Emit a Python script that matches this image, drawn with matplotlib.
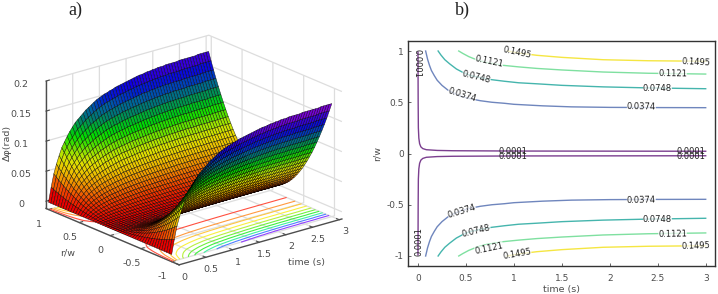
import numpy as np
import matplotlib
matplotlib.use("Agg")
import matplotlib.pyplot as plt
from matplotlib.colors import LinearSegmentedColormap, Normalize

# --- panel a: surface -------------------------------------------------------
# The mesh is built from two read series: height of the r/w = +-1 rim against
# time, and the relative height across r/w (their product gives the mesh).
time_grid = [0.00, 0.05, 0.10, 0.15, 0.20, 0.25, 0.30, 0.35, 0.40, 0.45,
             0.50, 0.55, 0.60, 0.65, 0.70, 0.75, 0.80, 0.85, 0.90, 0.95,
             1.00, 1.05, 1.10, 1.15, 1.20, 1.25, 1.30, 1.35, 1.40, 1.45,
             1.50, 1.55, 1.60, 1.65, 1.70, 1.75, 1.80, 1.85, 1.90, 1.95,
             2.00, 2.05, 2.10, 2.15, 2.20, 2.25, 2.30, 2.35, 2.40, 2.45,
             2.50, 2.55, 2.60, 2.65, 2.70, 2.75, 2.80, 2.85, 2.90, 2.95, 3.00]
rim_height = [0.000, 0.024, 0.045, 0.060, 0.073, 0.085, 0.093, 0.101, 0.108, 0.114,
              0.120, 0.124, 0.128, 0.132, 0.136, 0.139, 0.142, 0.145, 0.148, 0.150,
              0.152, 0.154, 0.155, 0.157, 0.158, 0.160, 0.161, 0.162, 0.163, 0.164,
              0.165, 0.166, 0.167, 0.168, 0.169, 0.169, 0.170, 0.171, 0.171, 0.172,
              0.172, 0.173, 0.173, 0.173, 0.174, 0.174, 0.174, 0.174, 0.174, 0.175,
              0.175, 0.175, 0.175, 0.175, 0.175, 0.175, 0.176, 0.176, 0.176, 0.176, 0.176]
r_grid = [-1.00, -0.96, -0.92, -0.88, -0.84, -0.80, -0.76, -0.72, -0.68, -0.64, -0.60,
          -0.56, -0.52, -0.48, -0.44, -0.40, -0.36, -0.32, -0.28, -0.24, -0.20,
          -0.16, -0.12, -0.08, -0.04, 0.00, 0.04, 0.08, 0.12, 0.16, 0.20,
          0.24, 0.28, 0.32, 0.36, 0.40, 0.44, 0.48, 0.52, 0.56, 0.60,
          0.64, 0.68, 0.72, 0.76, 0.80, 0.84, 0.88, 0.92, 0.96, 1.00]
r_profile = [1.000, 0.922, 0.846, 0.774, 0.706, 0.640, 0.578, 0.518, 0.462, 0.410, 0.360,
             0.314, 0.270, 0.230, 0.194, 0.160, 0.130, 0.102, 0.078, 0.058, 0.040,
             0.026, 0.014, 0.006, 0.002, 0.000, 0.002, 0.006, 0.014, 0.026, 0.040,
             0.058, 0.078, 0.102, 0.130, 0.160, 0.194, 0.230, 0.270, 0.314, 0.360,
             0.410, 0.462, 0.518, 0.578, 0.640, 0.706, 0.774, 0.846, 0.922, 1.000]
band_colors = ['#e80000', '#f03000', '#f06800', '#f09c00', '#ecc400', '#e0e000',
               '#a8e400', '#50e000', '#00dc00', '#00b030', '#007a70', '#0060a0',
               '#0020d0', '#1000e0', '#4000d8', '#7a00d8']
floor_levels = [0.0125, 0.029, 0.0455, 0.062, 0.0785, 0.095, 0.1115, 0.128, 0.1445, 0.161]
floor_colors = ['#ff5040', '#ff9a40', '#ffc840', '#f8f040', '#b8f040',
                '#70f040', '#40f040', '#40f0a0', '#5080ff', '#9040ff']

# --- panel b: contour lines -------------------------------------------------
t_c0001 = [0.000, 0.002, 0.004, 0.009, 0.017, 0.030, 0.050, 0.087, 0.200, 0.365, 1.000, 3.000]
r_c0001 = [0.990, 0.500, 0.250, 0.150, 0.096, 0.065, 0.048, 0.037, 0.030, 0.027, 0.024, 0.022]
t_c0374 = [0.08, 0.10, 0.12, 0.14, 0.17, 0.20, 0.25, 0.31, 0.38, 0.46, 0.54, 0.65,
           0.77, 0.90, 1.00, 1.30, 1.60, 2.00, 2.50, 3.00]
r_c0374 = [1.00, 0.92, 0.86, 0.81, 0.76, 0.715, 0.665, 0.62, 0.585, 0.555, 0.535, 0.515,
           0.50, 0.49, 0.48, 0.465, 0.455, 0.45, 0.448, 0.447]
t_c0748 = [0.21, 0.24, 0.28, 0.33, 0.40, 0.47, 0.55, 0.65, 0.77, 0.90, 1.05, 1.24, 1.50, 1.93, 2.40, 3.00]
r_c0748 = [1.00, 0.96, 0.915, 0.875, 0.825, 0.79, 0.76, 0.74, 0.72, 0.705, 0.69, 0.68, 0.665, 0.65, 0.64, 0.632]
t_c1121 = [0.425, 0.47, 0.53, 0.61, 0.70, 0.80, 0.89, 1.05, 1.24, 1.50, 1.93, 2.40, 3.00]
r_c1121 = [1.000, 0.975, 0.945, 0.915, 0.89, 0.875, 0.86, 0.845, 0.83, 0.815, 0.795, 0.783, 0.775]
t_c1495 = [0.93, 1.05, 1.24, 1.50, 1.93, 2.40, 3.00]
r_c1495 = [1.000, 0.98, 0.958, 0.938, 0.915, 0.905, 0.900]
line_colors = ['#7b3f8f', '#6f86bd', '#45b5ad', '#7fe0a0', '#f5e642']
lbl_t = [1.034, 2.90, 0.741, 2.655, 0.609, 2.496, 0.459, 2.33,
         1.034, 2.90, 0.741, 2.655, 0.609, 2.496, 0.459, 2.33]
lbl_r = [0.982, 0.894, 0.894, 0.774, 0.748, 0.634, 0.569, 0.452,
         -0.985, -0.904, -0.927, -0.787, -0.754, -0.644, -0.569, -0.459]
lbl_txt = ['0.1495', '0.1495', '0.1121', '0.1121', '0.0748', '0.0748', '0.0374', '0.0374',
           '0.1495', '0.1495', '0.1121', '0.1121', '0.0748', '0.0748', '0.0374', '0.0374']
lbl_rot = [-12, -3, -12, -1, -14, 0, -17, -1, 10, 2, 12, 1, 14, 0, 17, 1]
lbl0_t = [-0.007, 0.007, 0.985, 2.85, 0.985, 2.85]
lbl0_r = [0.878, -0.862, 0.016, 0.016, -0.033, -0.033]
lbl0_rot = [-90, 90, 0, 0, 0, 0]

GRAY = '#4d4d4d'
fig = plt.figure(figsize=(7.18, 2.94), dpi=100)
plt.rcParams['font.family'] = 'DejaVu Sans'

# panel a --------------------------------------------------------------------
ax = fig.add_axes([-0.0055, -0.0646, 0.5393, 1.0796], projection='3d', computed_zorder=False)
ax.set_proj_type('ortho')
ax.view_init(elev=20.2, azim=-129.2)
ax.set_box_aspect((213.5, 214, 138), zoom=1.0)
T, R = np.meshgrid(np.array(time_grid), np.array(r_grid))
Z = np.outer(np.array(r_profile), np.array(rim_height))
zmin = -0.012
ax.set_xlim(0, 3.05); ax.set_ylim(-1.12, 1.04); ax.set_zlim(zmin, 0.2)
ax.contour(T, R, Z, levels=floor_levels, colors=floor_colors, zdir='z', offset=zmin,
           linewidths=0.8, zorder=1)
cmap = LinearSegmentedColormap.from_list('bands', band_colors, N=256)
norm = Normalize(0, 0.176)
ax.plot_surface(T, R, Z, rstride=1, cstride=1, facecolors=cmap(norm(Z)), shade=False,
                edgecolor=(0, 0, 0, 0.8), linewidth=0.35, antialiased=True, zorder=2)
ax.set_xticks([0, 0.5, 1, 1.5, 2, 2.5, 3])
ax.set_xticklabels(['0', '0.5', '1', '1.5', '2', '2.5', '3'])
ax.set_yticks([-1, -0.5, 0, 0.5, 1])
ax.set_yticklabels(['-1', '-0.5', '0', '0.5', '1'])
ax.set_zticks([0, 0.05, 0.1, 0.15, 0.2])
ax.set_zticklabels(['0', '0.05', '0.1', '0.15', '0.2'])
for a in (ax.xaxis, ax.yaxis, ax.zaxis):
    a.set_pane_color((1, 1, 1, 0))
    a.pane.set_edgecolor('#dddddd')
    a.line.set_color(GRAY)
    a.line.set_linewidth(1.0)
    a._axinfo['grid'].update(color='#dddddd', linewidth=0.9)
    a._axinfo['tick'].update(inward_factor=0.0, outward_factor=0.25)
ax.tick_params(labelsize=6.8, colors=GRAY)
ax.tick_params(axis='x', pad=-3)
ax.tick_params(axis='y', pad=-1)
ax.tick_params(axis='z', pad=2)
ax.text2D(307 / 718, 1 - 262 / 294, 'time (s)', transform=fig.transFigure, fontsize=6.8,
          color=GRAY, ha='center', va='center')
ax.text2D(68 / 718, 1 - 253 / 294, 'r/w', transform=fig.transFigure, fontsize=6.8,
          color=GRAY, ha='center', va='center')
ax.text2D(7 / 718, 1 - 143 / 294, 'Δφ(rad)', transform=fig.transFigure, fontsize=6.8,
          color=GRAY, ha='center', va='center', rotation=90)
fig.text(75 / 718, 1 - 10 / 294, 'a)', family='Liberation Serif', fontsize=13,
         ha='center', va='center', color='#222222')

# panel b --------------------------------------------------------------------
bx = fig.add_axes([408 / 718, 1 - 266 / 294, 307 / 718, 225 / 294])
series = [(t_c0001, r_c0001), (t_c0374, r_c0374), (t_c0748, r_c0748),
          (t_c1121, r_c1121), (t_c1495, r_c1495)]
for (tt, rr), c in zip(series, line_colors):
    bx.plot(tt, rr, color=c, lw=1.0, zorder=1)
    bx.plot(tt, -np.array(rr), color=c, lw=1.0, zorder=1)
for t, r, s, rot in zip(lbl_t, lbl_r, lbl_txt, lbl_rot):
    bx.text(t, r, s, rotation=rot, rotation_mode='anchor', ha='center', va='center',
            fontsize=6, color='#222222', zorder=3,
            bbox=dict(fc='white', ec='none', pad=0, alpha=0.75))
for t, r, rot in zip(lbl0_t, lbl0_r, lbl0_rot):
    bx.text(t, r, '0.0001', rotation=rot, rotation_mode='anchor', ha='center', va='center',
            fontsize=6, color='#222222', zorder=3)
bx.set_xlim(-0.104, 3.097)
bx.set_ylim(-1.0976, 1.0976)
bx.set_xticks([0, 0.5, 1, 1.5, 2, 2.5, 3])
bx.set_xticklabels(['0', '0.5', '1', '1.5', '2', '2.5', '3'])
bx.set_yticks([-1, -0.5, 0, 0.5, 1])
bx.set_yticklabels(['-1', '-0.5', '0', '0.5', '1'])
bx.tick_params(labelsize=6.5, colors=GRAY, length=2, width=0.6, pad=3, direction='in')
bx.tick_params(axis='x', pad=6)
for s in bx.spines.values():
    s.set_color('#333333'); s.set_linewidth(1.0)
bx.set_xlabel('time (s)', fontsize=6.8, color=GRAY, labelpad=1.5)
bx.set_ylabel('r/w', fontsize=6.8, color=GRAY, labelpad=3)
fig.text(462 / 718, 1 - 10 / 294, 'b)', family='Liberation Serif', fontsize=13,
         ha='center', va='center', color='#222222')

fig.savefig('out.png', dpi=100)
